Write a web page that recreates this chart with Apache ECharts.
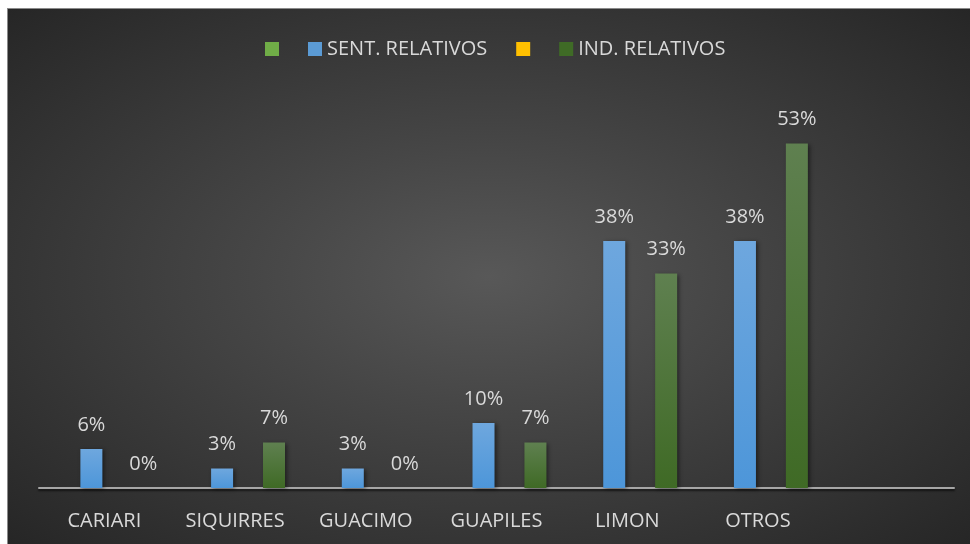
<!DOCTYPE html>
<html>
<head>
<meta charset="utf-8">
<script src="https://cdn.jsdelivr.net/npm/echarts@6/dist/echarts.min.js"></script>
<style>
html,body{margin:0;padding:0;background:#fff;width:970px;height:544px;overflow:hidden;}
#bg{position:absolute;left:7px;top:8px;width:963px;height:536px;box-sizing:border-box;border-top:1px solid #8a8a8a;border-left:1px solid #8a8a8a;
background:radial-gradient(ellipse farthest-corner at 50% 50%, #585858 0%, #464646 35%, #262626 100%);}
#chart{position:absolute;left:0;top:0;width:970px;height:544px;}
</style>
</head>
<body>
<div id="bg"></div>
<div id="chart"></div>
<script>
const categories = ['CARIARI', 'SIQUIRRES', 'GUACIMO', 'GUAPILES', 'LIMON', 'OTROS', ''];
const seriesNames = ['_a', 'SENT. RELATIVOS', '_b', 'IND. RELATIVOS'];
const emptyA = [null, null, null, null, null, null, null];
const sentRelativos = [6, 3, 3, 10, 38, 38, null];
const emptyB = [null, null, null, null, null, null, null];
const indRelativos = [0, 7, 0, 7, 33, 53, null];

const FONT = 'Open Sans';
const FS = 20;
const TXT = '#d9d9d9';

function grad(top, bottom) {
  return new echarts.graphic.LinearGradient(0, 0, 0, 1, [
    {offset: 0, color: top}, {offset: 1, color: bottom}
  ]);
}
const colors = [
  grad('#7cb857', '#5f9c3a'),
  grad('#6ea7de', '#4d96d9'),
  grad('#ffc000', '#f0b400'),
  grad('#5f8050', '#3f6a25')
];
const legendColors = ['#70ad47', '#5b9bd5', '#ffc000', '#3f6b26'];

function mkSeries(name, data, i) {
  return {
    name: name,
    type: 'bar',
    data: data,
    barWidth: 22,
    barGap: '18%',
    itemStyle: {
      color: colors[i],
      shadowBlur: 4,
      shadowColor: 'rgba(0,0,0,0.45)',
      shadowOffsetX: 2,
      shadowOffsetY: 1
    },
    label: {
      show: true,
      position: 'top',
      distance: 14,
      color: TXT,
      fontFamily: FONT,
      fontSize: FS,
      formatter: p => (p.value === null || p.value === undefined) ? '' : p.value + '%'
    }
  };
}

const chart = echarts.init(document.getElementById('chart'), null, {renderer: 'canvas'});
chart.setOption({
  backgroundColor: 'transparent',
  animation: false,
  color: legendColors,
  legend: {
    data: seriesNames.map((n, i) => ({name: n, itemStyle: {color: legendColors[i]}})),
    left: 265,
    top: 39,
    padding: 0,
    itemGap: 29,
    itemWidth: 14,
    itemHeight: 14,
    icon: 'rect',
    formatter: n => n.startsWith('_') ? '' : n,
    textStyle: {color: TXT, fontFamily: FONT, fontSize: FS}
  },
  grid: {left: 39, right: 16, top: 98, bottom: 56},
  xAxis: {
    type: 'category',
    data: categories,
    axisLine: {lineStyle: {color: '#a6a6a6', width: 2, shadowColor: 'rgba(0,0,0,0.6)', shadowBlur: 2, shadowOffsetY: 2}},
    axisTick: {show: false},
    axisLabel: {color: TXT, fontFamily: FONT, fontSize: FS, margin: 23, interval: 0}
  },
  yAxis: {
    type: 'value',
    min: 0,
    max: 60,
    show: false,
    splitLine: {show: false}
  },
  series: [
    mkSeries(seriesNames[0], emptyA, 0),
    mkSeries(seriesNames[1], sentRelativos, 1),
    mkSeries(seriesNames[2], emptyB, 2),
    mkSeries(seriesNames[3], indRelativos, 3)
  ]
});
</script>
</body>
</html>
